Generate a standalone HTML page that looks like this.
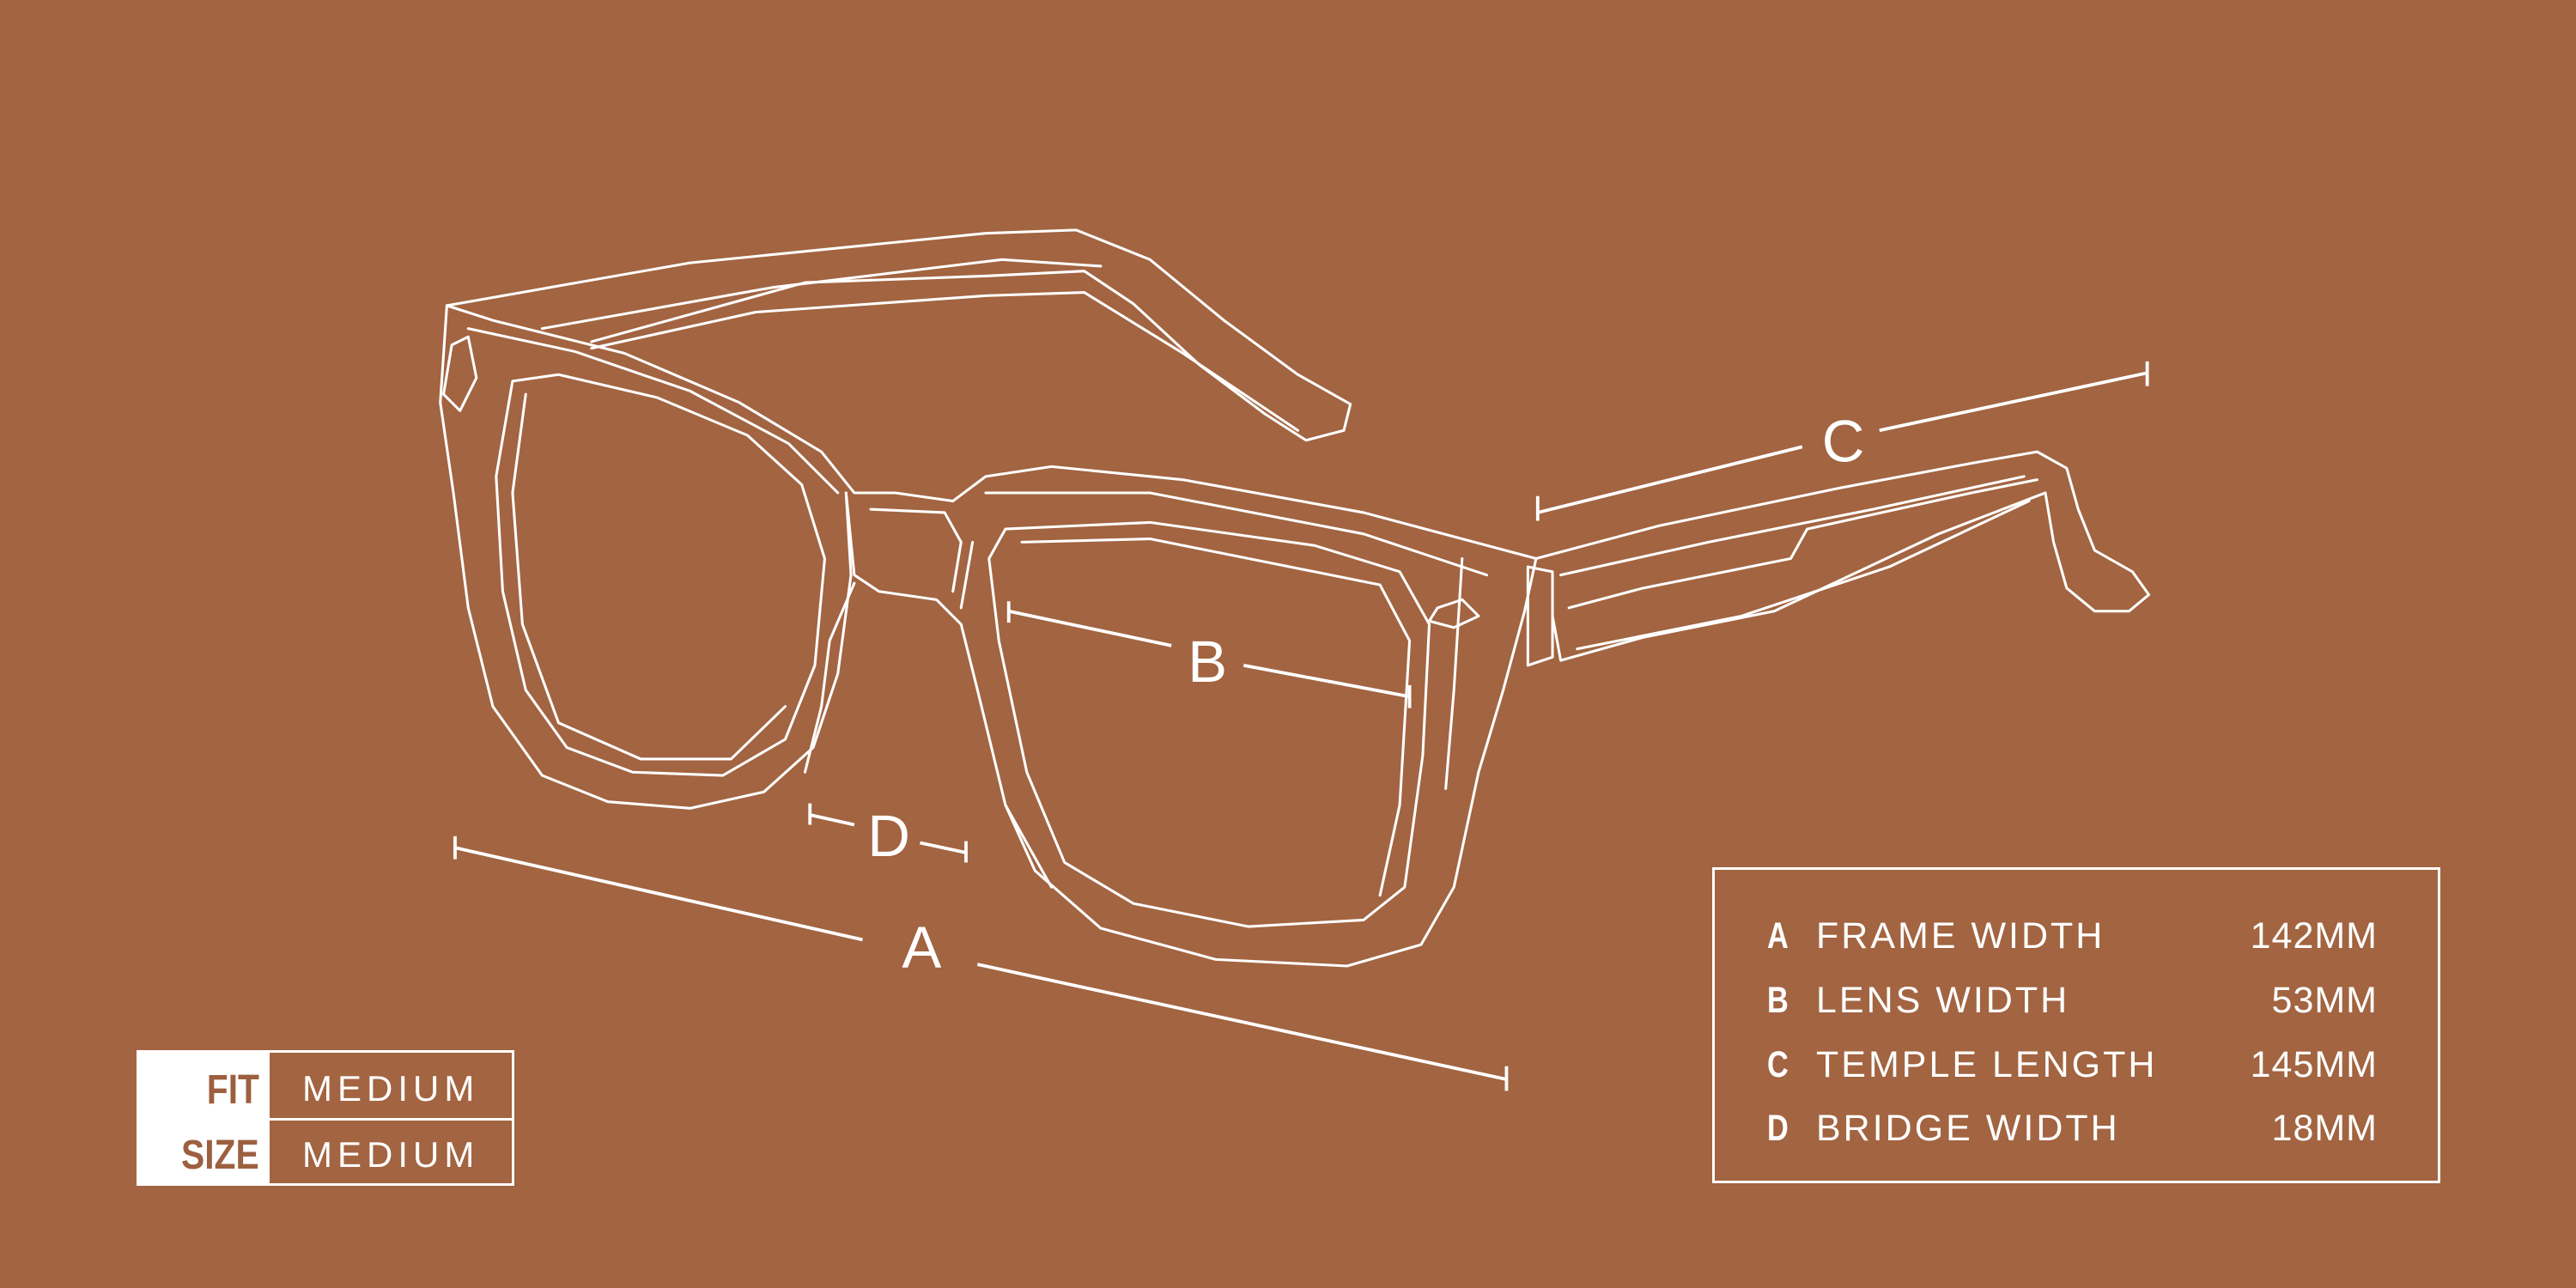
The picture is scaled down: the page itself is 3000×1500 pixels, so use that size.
<!DOCTYPE html>
<html><head><meta charset="utf-8"><style>
html,body{margin:0;padding:0;background:#A26441;}
body{width:3000px;height:1500px;position:relative;overflow:hidden;font-family:"Liberation Sans",sans-serif;color:#fff}
svg{position:absolute;left:0;top:0}
.tbl{position:absolute;left:1994px;top:1010px;width:848px;height:368px;border:3px solid #fff;box-sizing:border-box}
.row{position:absolute;left:0;width:100%;height:44px;font-size:43px;line-height:44px}
.row .k{position:absolute;left:61px;font-family:"Liberation Sans Narrow","Liberation Sans",sans-serif;font-weight:bold;transform:scaleX(0.8);transform-origin:left}
.row .l{position:absolute;left:118px;letter-spacing:3px;}
.row .v{position:absolute;right:70px;letter-spacing:1px}
.fit{position:absolute;left:159px;top:1223px;width:440px;height:158px;border:3px solid #fff;box-sizing:border-box}
.fit .w{position:absolute;left:0;top:0;width:152px;height:100%;background:#fff}
.fit .d{position:absolute;left:152px;right:0;top:76px;height:3px;background:#fff}
.fit .lab{position:absolute;right:294px;font-family:"Liberation Sans Narrow","Liberation Sans",sans-serif;font-weight:bold;color:#9c6040;font-size:48px;transform:scaleX(0.85);transform-origin:right}
.fit .val{position:absolute;left:190px;font-size:42px;letter-spacing:6px}
</style></head><body>
<svg width="3000" height="1500" viewBox="0 0 1568 784">
<g fill="none" stroke="#fff" stroke-width="1.6" stroke-linejoin="round" stroke-linecap="round">
<path d="M272,186 L420,160 L600,142 L655,140 L700,158 L745,195 L790,228 L822,246 L818,262 L795,268 L770,252 L730,222 L690,185 L660,165 L600,168 L490,172 L360,208"/>
<path d="M330,200 L470,175 L610,158 L670,162"/>
<path d="M360,212 L460,190 L600,180 L660,178 L720,215 L790,262"/>
<path d="M272,186 L268,245 L276,300 L285,370 L300,430 L330,472 L370,488 L420,492 L465,482 L495,455 L510,410 L518,350 L515,300"/>
<path d="M272,186 L300,195 L380,215 L450,245 L500,275 L520,300 L545,300 L580,305"/>
<path d="M285,200 L350,214 L420,238 L480,270 L510,300"/>
<path d="M312,232 L302,290 L306,360 L320,420 L345,455 L385,470 L440,472 L478,450 L496,405 L502,340 L488,295 L455,265 L400,242 L340,228 Z"/>
<path d="M320,240 L312,300 L318,380 L340,440 L390,462 L445,462 L478,430"/>
<path d="M275,210 L285,205 L290,230 L280,250 L270,240 Z"/>
<path d="M515,300 L520,350 L535,360 L570,365 L585,380 L595,420 L612,490 L640,540"/>
<path d="M530,310 L575,312 L585,330 L580,360"/>
<path d="M520,355 L505,390 L500,430 L490,470"/>
<path d="M580,305 L600,290 L640,284 L720,292 L830,312 L935,340 L928,372 L915,420 L900,470 L885,540 L865,575 L820,588 L740,584 L670,565 L630,530 L612,490"/>
<path d="M600,300 L700,300 L830,325 L905,350"/>
<path d="M612,322 L700,318 L800,332 L852,348 L870,380 L866,460 L855,540 L830,560 L760,564 L690,550 L648,525 L625,470 L608,390 L602,340 Z"/>
<path d="M622,330 L700,328 L840,356 L858,390 L852,490 L840,545"/>
<path d="M592,330 L585,370"/>
<path d="M875,370 L890,365 L900,375 L885,382 L870,378 Z"/>
<path d="M890,340 L885,420 L880,480"/>
<path d="M935,340 L1010,320 L1120,297 L1200,282 L1240,275 L1258,285 L1265,310 L1275,335 L1298,348 L1308,362 L1296,372 L1275,372 L1258,358 L1250,330 L1245,300 L1180,325 L1080,372 L1000,388 L950,402 L945,375"/>
<path d="M950,350 L1040,330 L1140,310 L1232,290"/>
<path d="M955,370 L1000,358 L1090,340 L1100,322 L1200,300 L1240,292"/>
<path d="M960,395 L1060,375 L1150,345 L1235,305"/>
<path d="M930,345 L945,348 L945,400 L930,405 Z"/>
</g>
<g stroke="#fff" stroke-width="2" fill="none">
<path d="M277,516 L525,572 M595,587 L917,657 M277,509 V523 M917,649 V664"/>
<path d="M614,372 L713,393 M757,405 L858,424 M614,366 V379 M858,417 V431"/>
<path d="M936,312 L1097,272 M1144,262 L1307,227 M936,302 V317 M1307,220 V235"/>
<path d="M493,496 L520,502 M560,513 L588,519 M493,489 V502 M588,512 V525"/>
</g>
<g fill="#fff" font-family="Liberation Sans Narrow, Liberation Sans, sans-serif" font-size="36" text-anchor="middle">
<text x="561" y="589">A</text>
<text x="735" y="415">B</text>
<text x="1122" y="281">C</text>
<text x="541" y="521">D</text>
</g>
</svg>
<div class="tbl">
<div class="row" style="top:55px"><span class="k">A</span><span class="l">FRAME WIDTH</span><span class="v">142MM</span></div>
<div class="row" style="top:130px"><span class="k">B</span><span class="l">LENS WIDTH</span><span class="v">53MM</span></div>
<div class="row" style="top:205px"><span class="k">C</span><span class="l">TEMPLE LENGTH</span><span class="v">145MM</span></div>
<div class="row" style="top:279px"><span class="k">D</span><span class="l">BRIDGE WIDTH</span><span class="v">18MM</span></div>
</div>
<div class="fit">
<div class="w"></div><div class="d"></div>
<div class="lab" style="top:16px">FIT</div>
<div class="lab" style="top:92px">SIZE</div>
<div class="val" style="top:18px">MEDIUM</div>
<div class="val" style="top:95px">MEDIUM</div>
</div>
</body></html>
